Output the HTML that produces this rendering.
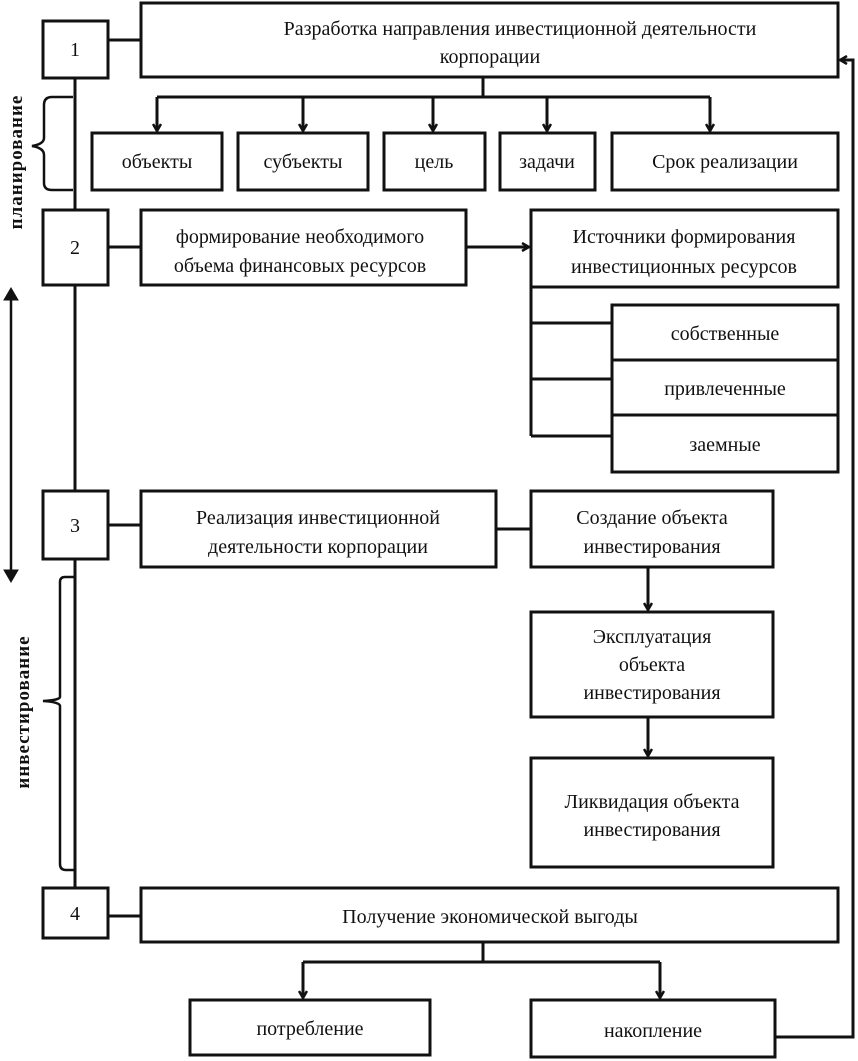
<!DOCTYPE html>
<html><head><meta charset="utf-8"><style>
html,body{margin:0;padding:0;background:#fff}
svg{display:block}
text{font-family:"Liberation Serif","DejaVu Serif",serif;font-size:20px;fill:#111}
</style></head><body>
<svg width="858" height="1061" viewBox="0 0 858 1061" xmlns="http://www.w3.org/2000/svg">
<defs><marker id="a" markerWidth="10" markerHeight="10" refX="8" refY="5" orient="auto" markerUnits="userSpaceOnUse"><path d="M1,1 L8,5 L1,9" fill="none" stroke="#111" stroke-width="2.5"/></marker></defs>
<g fill="none" stroke="#111" stroke-width="3">
<!-- spine -->
<line x1="75" y1="78" x2="75" y2="888"/>
<rect x="43" y="21" width="65" height="57" fill="#fff"/>
<rect x="43" y="210" width="65" height="75" fill="#fff"/>
<rect x="43" y="491" width="65" height="68" fill="#fff"/>
<rect x="43" y="888" width="65" height="50" fill="#fff"/>
<line x1="108" y1="40" x2="141" y2="40"/>
<line x1="108" y1="247" x2="141" y2="247"/>
<line x1="108" y1="525" x2="141" y2="525"/>
<line x1="108" y1="916" x2="141" y2="916"/>
<rect x="141" y="3" width="697" height="74"/>
<!-- branches -->
<line x1="483" y1="77" x2="483" y2="97"/>
<line x1="157" y1="97" x2="710" y2="97"/>
<line x1="157" y1="97" x2="157" y2="131" marker-end="url(#a)"/>
<line x1="303" y1="97" x2="303" y2="131" marker-end="url(#a)"/>
<line x1="433" y1="97" x2="433" y2="131" marker-end="url(#a)"/>
<line x1="547" y1="97" x2="547" y2="131" marker-end="url(#a)"/>
<line x1="710" y1="97" x2="710" y2="131" marker-end="url(#a)"/>
<rect x="92" y="133" width="130" height="57"/>
<rect x="238" y="133" width="130" height="57"/>
<rect x="384" y="133" width="101" height="57"/>
<rect x="500" y="133" width="95" height="57"/>
<rect x="612" y="133" width="226" height="57"/>
<!-- brace planning -->
<path d="M73,97 L52,97 Q44,97 44,105 L44,138 Q44,144 32,146 Q44,148 44,155 L44,183 Q44,190 52,190 L73,190" stroke-width="2.5"/>
<!-- row 2 -->
<rect x="141" y="210" width="325" height="75"/>
<line x1="466" y1="247" x2="529" y2="247" marker-end="url(#a)"/>
<rect x="531" y="210" width="307" height="77"/>
<path d="M531,287 L531,436"/>
<line x1="531" y1="323" x2="612" y2="323"/>
<line x1="531" y1="379" x2="612" y2="379"/>
<line x1="531" y1="436" x2="612" y2="436"/>
<rect x="612" y="305" width="226" height="55"/>
<rect x="612" y="360" width="226" height="55"/>
<rect x="612" y="415" width="226" height="57"/>
<!-- left arrow -->
<line x1="11" y1="290" x2="11" y2="580" stroke-width="2.5"/>
<path d="M4,300 L11,288 L18,300 Z M4,570 L11,582 L18,570 Z" fill="#111" stroke-width="1"/>
<!-- row 3 -->
<rect x="141" y="491" width="355" height="76"/>
<line x1="496" y1="529" x2="531" y2="529"/>
<rect x="531" y="491" width="242" height="76"/>
<line x1="648" y1="567" x2="648" y2="610" marker-end="url(#a)"/>
<rect x="531" y="612" width="242" height="105"/>
<line x1="648" y1="717" x2="648" y2="756" marker-end="url(#a)"/>
<rect x="531" y="758" width="242" height="109"/>
<!-- brace invest -->
<path d="M75,577 L65,577 Q60,577 60,582 L60,697 Q60,700 43,701 Q60,702 60,706 L60,864 Q60,870 66,870 L75,870" stroke-width="2.5"/>
<!-- row 4 -->
<rect x="141" y="888" width="697" height="54"/>
<line x1="483" y1="942" x2="483" y2="962"/>
<line x1="303" y1="962" x2="660" y2="962"/>
<line x1="303" y1="962" x2="303" y2="998" marker-end="url(#a)"/>
<line x1="660" y1="962" x2="660" y2="998" marker-end="url(#a)"/>
<rect x="190" y="1000" width="240" height="55"/>
<rect x="531" y="1000" width="244" height="57"/>
<path d="M775,1037 L853,1037 L853,60 L840,60" marker-end="url(#a)"/>
</g>
<g text-anchor="middle">
<text x="75" y="56">1</text>
<text x="75" y="254">2</text>
<text x="75" y="532">3</text>
<text x="75" y="920">4</text>
<text x="520" y="35">Разработка направления инвестиционной деятельности</text>
<text x="490" y="63">корпорации</text>
<text x="157" y="168">объекты</text>
<text x="303" y="168">субъекты</text>
<text x="434" y="168">цель</text>
<text x="547" y="168">задачи</text>
<text x="725" y="168">Срок реализации</text>
<text x="300" y="243">формирование необходимого</text>
<text x="300" y="272">объема финансовых ресурсов</text>
<text x="684" y="243">Источники формирования</text>
<text x="684" y="273">инвестиционных ресурсов</text>
<text x="725" y="340">собственные</text>
<text x="725" y="395">привлеченные</text>
<text x="725" y="451">заемные</text>
<text x="318" y="524">Реализация инвестиционной</text>
<text x="318" y="553">деятельности корпорации</text>
<text x="652" y="524">Создание объекта</text>
<text x="652" y="553">инвестирования</text>
<text x="652" y="643">Эксплуатация</text>
<text x="652" y="671">объекта</text>
<text x="652" y="699">инвестирования</text>
<text x="652" y="808">Ликвидация объекта</text>
<text x="652" y="836">инвестирования</text>
<text x="490" y="923">Получение экономической выгоды</text>
<text x="310" y="1035">потребление</text>
<text x="653" y="1037">накопление</text>
<text transform="translate(22,162) rotate(-90)" style="font-weight:bold;font-size:19px;letter-spacing:1px">планирование</text>
<text transform="translate(29,712) rotate(-90)" style="font-weight:bold;font-size:19px;letter-spacing:1px">инвестирование</text>
</g>
</svg>
</body></html>
